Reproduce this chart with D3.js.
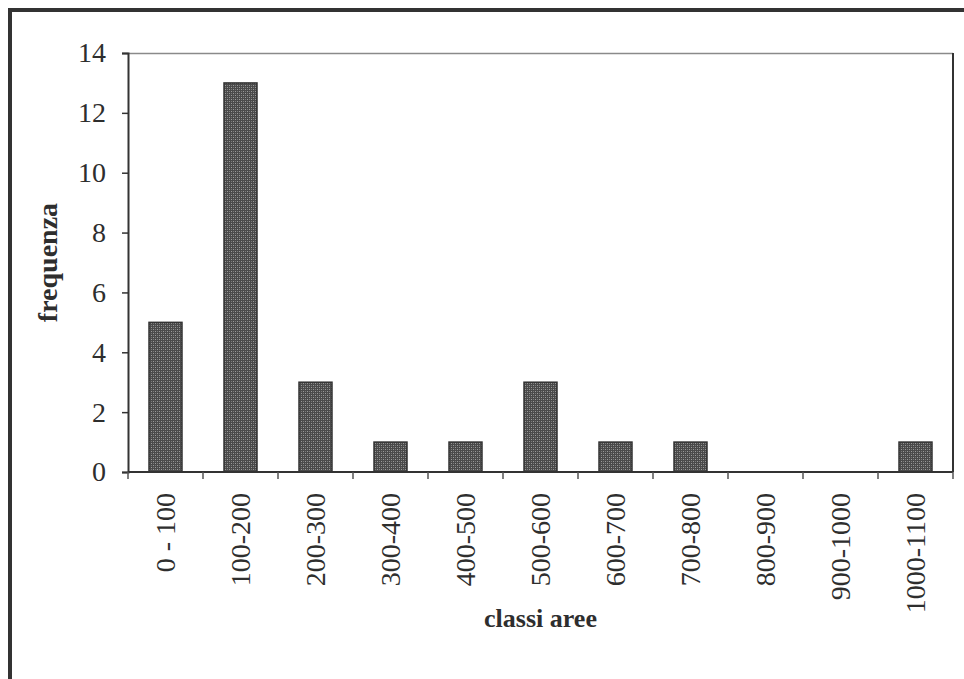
<!DOCTYPE html>
<html>
<head>
<meta charset="utf-8">
<script src="https://cdn.jsdelivr.net/npm/d3@7"></script>
<style>
  html, body { margin: 0; padding: 0; background: #fff; }
  svg { display: block; }
  text { font-family: "Liberation Serif", "Times New Roman", Times, serif; fill: #2e2e2e; }
</style>
</head>
<body>
<script>
// Frequency of area classes
const categories = ["0 - 100", "100-200", "200-300", "300-400", "400-500", "500-600",
                    "600-700", "700-800", "800-900", "900-1000", "1000-1100"];
const frequencies = [5, 13, 3, 1, 1, 3, 1, 1, 0, 0, 1];
const yTicks = [0, 2, 4, 6, 8, 10, 12, 14];
const yTitle = "frequenza";
const xTitle = "classi aree";

const W = 964, H = 679;
const plot = { left: 128, top: 53, right: 953, bottom: 472 };

const svg = d3.select("body").append("svg").attr("width", W).attr("height", H);

// Stippled fill for the bars
const defs = svg.append("defs");
const pat = defs.append("pattern")
  .attr("id", "stipple").attr("patternUnits", "userSpaceOnUse")
  .attr("width", 4).attr("height", 4);
pat.append("rect").attr("width", 4).attr("height", 4).attr("fill", "#4a4a4a");
pat.append("rect").attr("x", 1).attr("y", 1).attr("width", 1).attr("height", 1).attr("fill", "#9a9a9a");
pat.append("rect").attr("x", 3).attr("y", 3).attr("width", 1).attr("height", 1).attr("fill", "#9a9a9a");
pat.append("rect").attr("x", 1).attr("y", 3).attr("width", 1).attr("height", 1).attr("fill", "#7a7a7a");
pat.append("rect").attr("x", 3).attr("y", 1).attr("width", 1).attr("height", 1).attr("fill", "#7a7a7a");

// Outer frame
svg.append("rect")
  .attr("x", 10).attr("y", 10).attr("width", W).attr("height", H)
  .attr("fill", "none").attr("stroke", "#333").attr("stroke-width", 4);

const x = d3.scaleBand().domain(categories)
  .range([plot.left, plot.right]).paddingInner(0.56).paddingOuter(0.28);
const xOuter = d3.scaleBand().domain(categories).range([plot.left, plot.right]);
const y = d3.scaleLinear().domain([0, 14]).range([plot.bottom, plot.top]);

// Plot area border (top light, right dark)
svg.append("line")
  .attr("x1", plot.left).attr("x2", plot.right)
  .attr("y1", plot.top + 0.5).attr("y2", plot.top + 0.5)
  .attr("stroke", "#8a8a8a").attr("stroke-width", 1.5);
svg.append("line")
  .attr("x1", plot.right).attr("x2", plot.right)
  .attr("y1", plot.top).attr("y2", plot.bottom)
  .attr("stroke", "#333").attr("stroke-width", 2);

// Bars
svg.append("g").selectAll("rect")
  .data(frequencies.map((v, i) => ({ c: categories[i], v })))
  .join("rect")
  .attr("x", d => x(d.c))
  .attr("y", d => y(d.v))
  .attr("width", x.bandwidth())
  .attr("height", d => y(0) - y(d.v))
  .attr("fill", "url(#stipple)")
  .attr("stroke", "#333").attr("stroke-width", 1.5);

// Y axis
const yAxis = svg.append("g")
  .attr("transform", `translate(${plot.left},0)`)
  .call(d3.axisLeft(y).tickValues(yTicks).tickSize(6).tickPadding(16).tickFormat(d3.format("d")));
yAxis.attr("font-family", null).attr("font-size", null);
yAxis.select(".domain").attr("stroke", "#333").attr("stroke-width", 2);
yAxis.selectAll(".tick line").attr("stroke", "#333").attr("stroke-width", 1.5);
yAxis.selectAll(".tick text").style("font-size", "28px").attr("fill", "#2e2e2e");

// X axis: ticks on category boundaries
const xg = svg.append("g").attr("transform", `translate(0,${plot.bottom})`);
xg.append("line")
  .attr("x1", plot.left).attr("x2", plot.right).attr("y1", 0).attr("y2", 0)
  .attr("stroke", "#333").attr("stroke-width", 2);
const bounds = categories.map(c => xOuter(c)).concat([plot.right]);
xg.selectAll("line.tk").data(bounds).join("line").attr("class", "tk")
  .attr("x1", d => d).attr("x2", d => d).attr("y1", 0).attr("y2", 7)
  .attr("stroke", "#555").attr("stroke-width", 1.5);
xg.selectAll("text").data(categories).join("text")
  .attr("transform", d => `translate(${xOuter(d) + xOuter.bandwidth() / 2},21) rotate(-90)`)
  .attr("text-anchor", "end").attr("dy", "0.35em")
  .style("font-size", "28px")
  .text(d => d);

// Axis titles
svg.append("text")
  .attr("transform", `translate(47,${(plot.top + plot.bottom) / 2}) rotate(-90)`)
  .attr("text-anchor", "middle").attr("dy", "0.35em")
  .style("font-weight", "bold").style("font-size", "28px")
  .text(yTitle);
svg.append("text")
  .attr("x", (plot.left + plot.right) / 2).attr("y", 627)
  .attr("text-anchor", "middle")
  .style("font-weight", "bold").style("font-size", "26px")
  .text(xTitle);
</script>
</body>
</html>
